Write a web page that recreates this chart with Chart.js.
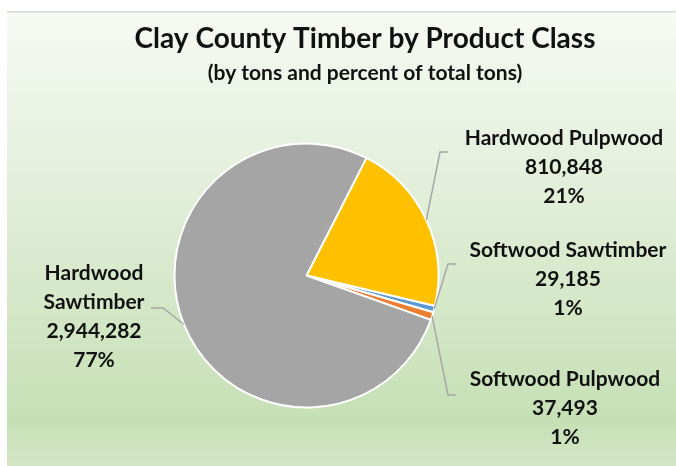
<!DOCTYPE html>
<html>
<head>
<meta charset="utf-8">
<script src="https://cdn.jsdelivr.net/npm/chart.js@4.4.1/dist/chart.umd.min.js"></script>
<style>
  html, body { margin: 0; padding: 0; background: #ffffff; }
  #wrap { width: 676px; height: 466px; position: relative; }
</style>
</head>
<body>
<div id="wrap"><canvas id="chartTimber" width="676" height="466"></canvas></div>
<script>
// datos
const categorias = ['Hardwood Pulpwood', 'Softwood Sawtimber', 'Softwood Pulpwood', 'Hardwood Sawtimber'];
const toneladas = [810848, 29185, 37493, 2944282];
const etiquetasPct = ['21%', '1%', '1%', '77%'];
const colores = ['#FFC000', '#5B9BD5', '#ED7D31', '#A5A5A5'];

// posición de cada etiqueta: texto (centro), codo y fin de la línea guía
const layoutEtiquetas = [
    { lineas: ['Hardwood Pulpwood'], x: 564, y: 138, codo: [440, 152], fin: [448, 152] },
    { lineas: ['Softwood Sawtimber'], x: 568, y: 250, codo: [448, 264], fin: [456, 264] },
    { lineas: ['Softwood Pulpwood'], x: 565, y: 379, codo: [448, 395], fin: [456, 395] },
    { lineas: ['Hardwood', 'Sawtimber'], x: 94, y: 273, codo: [163, 308], fin: [151, 308] }
];

const FUENTE = 'Lato, "Open Sans", sans-serif';

const fondoPlugin = {
    id: 'fondo',
    beforeDraw(chart) {
        const ctx = chart.ctx;
        ctx.save();
        ctx.fillStyle = '#ffffff';
        ctx.fillRect(0, 0, chart.width, chart.height);
        const g = ctx.createLinearGradient(0, 12, 0, chart.height);
        g.addColorStop(0, '#f7faf4');
        g.addColorStop(0.5, '#dcebd2');
        g.addColorStop(0.9, '#c6e0b5');
        g.addColorStop(1, '#d3e6c6');
        ctx.fillStyle = g;
        ctx.fillRect(7, 12, chart.width - 7, chart.height - 12);
        ctx.fillStyle = '#d9d9d9';
        ctx.fillRect(7, 11, chart.width - 7, 1.5);
        ctx.restore();
    }
};

const etiquetasPlugin = {
    id: 'etiquetas',
    afterDraw(chart) {
        const ctx = chart.ctx;
        const meta = chart.getDatasetMeta(0);
        ctx.save();
        ctx.textAlign = 'center';
        ctx.fillStyle = '#111111';

        ctx.textBaseline = 'alphabetic';
        ctx.font = 'bold 28px ' + FUENTE;
        ctx.fillText('Clay County Timber by Product Class', 365, 48);
        ctx.font = 'bold 21px ' + FUENTE;
        ctx.fillText('(by tons and percent of total tons)', 365, 80);

        ctx.textBaseline = 'middle';
        ctx.font = 'bold 21px ' + FUENTE;
        const paso = 29;
        meta.data.forEach(function (arc, i) {
            const lay = layoutEtiquetas[i];
            const p = arc.getProps(['x', 'y', 'startAngle', 'endAngle', 'outerRadius'], true);
            const mid = (p.startAngle + p.endAngle) / 2;
            const sx = p.x + Math.cos(mid) * p.outerRadius;
            const sy = p.y + Math.sin(mid) * p.outerRadius;

            ctx.strokeStyle = '#a6a6a6';
            ctx.lineWidth = 1.5;
            ctx.beginPath();
            ctx.moveTo(sx, sy);
            ctx.lineTo(lay.codo[0], lay.codo[1]);
            ctx.lineTo(lay.fin[0], lay.fin[1]);
            ctx.stroke();

            const textos = lay.lineas.concat([toneladas[i].toLocaleString('en-US'), etiquetasPct[i]]);
            textos.forEach(function (t, k) {
                ctx.fillText(t, lay.x, lay.y + k * paso);
            });
        });
        ctx.restore();
    }
};

new Chart(document.getElementById('chartTimber').getContext('2d'), {
    type: 'pie',
    data: {
        labels: categorias,
        datasets: [{
            data: toneladas,
            backgroundColor: colores,
            borderColor: '#ffffff',
            borderWidth: 2
        }]
    },
    options: {
        responsive: false,
        animation: false,
        rotation: 27,
        radius: 132,
        layout: {
            padding: { left: 170, right: 233, top: 140, bottom: 55 }
        },
        plugins: {
            legend: { display: false },
            title: { display: false },
            tooltip: { enabled: false }
        }
    },
    plugins: [fondoPlugin, etiquetasPlugin]
});
</script>
</body>
</html>
